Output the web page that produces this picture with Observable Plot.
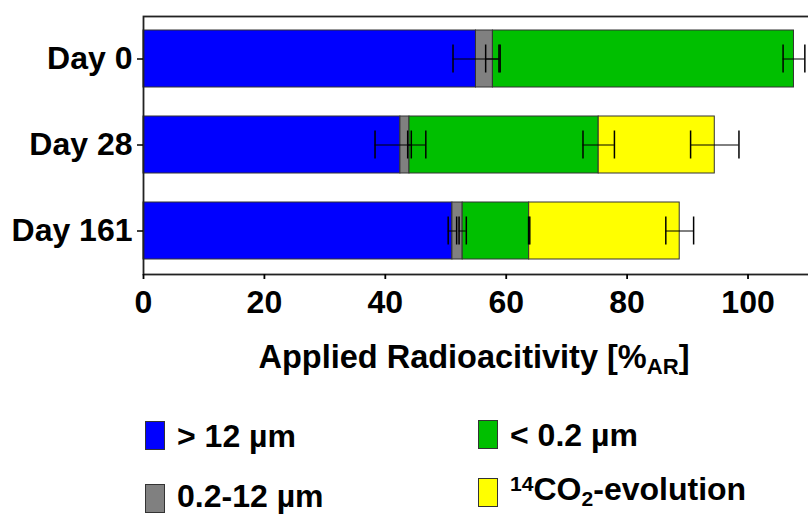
<!DOCTYPE html>
<html>
<head>
<meta charset="utf-8">
<script src="https://cdn.jsdelivr.net/npm/d3@7"></script>
<script src="https://cdn.jsdelivr.net/npm/@observablehq/plot@0.6"></script>
<style>
  html, body { margin: 0; padding: 0; background: #fff; }
  #wrap { position: relative; width: 808px; height: 515px; overflow: hidden;
          font-family: "Liberation Sans", Arial, sans-serif; font-weight: bold; color: #000; }
  #chart { position: absolute; left: 0; top: 0; }
  #xlabel { position: absolute; left: 0; width: 948px; top: 337px; text-align: center;
            font-size: 32.5px; line-height: 40px; white-space: nowrap; }
  #xlabel sub { font-size: 0.68em; vertical-align: -0.28em; line-height: 0; }
  .leg { position: absolute; font-size: 32px; line-height: 30px; white-space: nowrap; }
  .sw { position: absolute; width: 18px; height: 27px; border: 1px solid #333; }
  .lt { position: absolute; white-space: nowrap; }
  .lt sup { font-size: 0.66em; vertical-align: 0.45em; line-height: 0; }
  .lt sub { font-size: 0.66em; vertical-align: -0.3em; line-height: 0; }
</style>
</head>
<body>
<div id="wrap">
  <div id="chart"></div>
  <div id="xlabel">Applied Radioacitivity [%<sub>AR</sub>]</div>
  <div id="legend"></div>
</div>
<script>
// ---- data ----
const days = ["Day 0", "Day 28", "Day 161"];
const fractions = ["> 12 µm", "0.2-12 µm", "< 0.2 µm", "14CO2-evolution"];
const colors = ["#0000ff", "#808080", "#00bf00", "#ffff00"];
const gt12 = [55.0, 42.5, 51.1];
const gt12Sd = [3.8, 4.2, 0.7];
const mid = [2.8, 1.5, 1.7];
const midSd = [1.2, 0.3, 0.6];
const lt02 = [49.8, 31.3, 11.0];
const lt02Sd = [1.8, 2.6, 0.1];
const co2 = [0, 19.2, 24.9];
const co2Sd = [0, 4.0, 2.3];
const xTicks = [0, 20, 40, 60, 80, 100];

// ---- table ----
const means = [gt12, mid, lt02, co2];
const sds = [gt12Sd, midSd, lt02Sd, co2Sd];
const rows = [];
days.forEach((d, i) => {
  let cum = 0;
  fractions.forEach((f, j) => {
    const v = means[j][i];
    cum += v;
    rows.push({day: d, fraction: f, value: v, end: cum, sd: sds[j][i], order: j});
  });
});
const bars = rows.filter(r => r.value > 0);
const errs = rows.filter(r => r.sd > 0);

const plot = Plot.plot({
  width: 808,
  height: 320,
  marginLeft: 143,
  marginRight: -3,
  marginTop: 16,
  marginBottom: 46,
  style: {fontFamily: "'Liberation Sans', Arial, sans-serif", fontSize: "32px", fontWeight: "bold", color: "#000", background: "#fff", overflow: "hidden"},
  x: {domain: [0, 110.5]},
  y: {domain: days, paddingInner: 0.337, paddingOuter: 0.1685},
  color: {domain: fractions, range: colors},
  marks: [
    Plot.barX(bars, {y: "day", x1: d => d.end - d.value, x2: "end", fill: "fraction", stroke: "#333", strokeWidth: 1}),
    Plot.ruleY(errs, {y: "day", x1: d => d.end - d.sd, x2: d => d.end + d.sd, stroke: "#000", strokeWidth: 1}),
    Plot.tickX(errs, {y: "day", x: d => d.end - d.sd, stroke: "#000", strokeWidth: 1.5, insetTop: 14.5, insetBottom: 14.5}),
    Plot.tickX(errs, {y: "day", x: d => d.end + d.sd, stroke: "#000", strokeWidth: 1.5, insetTop: 14.5, insetBottom: 14.5}),
    Plot.frame({stroke: "#222", strokeWidth: 1.8}),
    Plot.axisX({ticks: xTicks, tickSize: 5, tickPadding: 11, tickFormat: d => String(d), label: null, stroke: "#000", strokeWidth: 1.8, fill: "#000"}),
    Plot.axisY({tickSize: 6, tickPadding: 5, label: null, stroke: "#000", strokeWidth: 1.5, fill: "#000"})
  ]
});
document.getElementById("chart").appendChild(plot);

// ---- legend ----
const legPos = [
  {x: 145, y: 421, tx: 177, ty: 421},
  {x: 145, y: 484, tx: 177, ty: 481},
  {x: 478, y: 420, tx: 510, ty: 420},
  {x: 478, y: 478, tx: 510, ty: 474}
];
const leg = document.getElementById("legend");
fractions.forEach((f, j) => {
  const p = legPos[j];
  const sw = document.createElement("div");
  sw.className = "sw";
  sw.style.left = p.x + "px"; sw.style.top = p.y + "px"; sw.style.background = colors[j];
  leg.appendChild(sw);
  const t = document.createElement("div");
  t.className = "lt leg";
  t.style.left = p.tx + "px"; t.style.top = p.ty + "px";
  if (f === "14CO2-evolution") t.innerHTML = "<sup>14</sup>CO<sub>2</sub>-evolution";
  else t.textContent = f;
  leg.appendChild(t);
});
</script>
</body>
</html>
